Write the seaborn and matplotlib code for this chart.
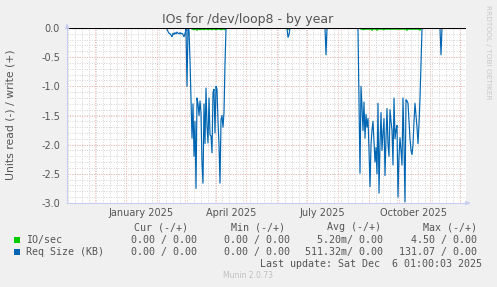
import numpy as np
import pandas as pd
import matplotlib
matplotlib.use("Agg")
import matplotlib.pyplot as plt
from matplotlib.patches import Rectangle
import seaborn as sns

# ---------------- data ----------------
x_start = "2024-11-03"
x_end = "2025-12-07"
last_day = "2025-12-06"

series_names = ["IO/sec", "Req Size (KB)"]
series_colors = ["#00CC00", "#0066B3"]

# Req Size (KB), read side (negative), daily values
req_a_start = "2025-02-11"
req_a = [-0.02, -0.06, -0.09, -0.10, -0.12, -0.15, -0.09, -0.11, -0.08, -0.10,
         -0.07, -0.09, -0.10, -0.08, -0.10, -0.09, -0.11, -0.15, -0.10, -0.02,
         -1.00, -0.02, -0.03]
req_b_start = "2025-03-06"
req_b = [-0.55, -1.20, -1.89, -1.30, -2.20, -1.60, -2.75, -1.20, -1.30, -1.50,
         -1.25, -1.45, -2.32, -2.66, -1.30, -1.98, -1.03, -1.68, -1.97, -1.20,
         -1.83, -1.85, -2.14, -1.10, -1.05, -1.80, -1.00, -1.05, -1.60, -2.00,
         -2.66, -1.57, -1.50, -1.70, -1.45, -0.60, -0.02]
req_c_start = "2025-08-21"
req_c = [-0.02, -1.30, -2.49, -1.00, -1.35, -1.76, -1.27, -1.89, -1.48, -1.70,
         -1.55, -2.10, -2.72, -2.00, -1.75, -1.60, -1.95, -2.30, -2.05, -2.50,
         -1.29, -2.83, -2.00, -1.45, -2.10, -1.80, -1.55, -2.53, -1.90, -1.38,
         -2.00, -2.20, -1.40, -1.60, -1.75, -2.35, -1.20, -1.90, -1.75, -1.67,
         -2.90, -2.20, -1.88, -2.10, -2.35, -1.20, -2.00, -2.98, -1.23, -1.25,
         -1.29, -1.60, -1.90, -2.10, -2.17, -2.00, -1.60, -1.29, -1.50, -1.70,
         -1.98, -1.65, -1.20, -0.63, -0.02]
req_dip_dates = ["2025-06-12", "2025-06-13", "2025-07-20", "2025-11-12"]
req_dip_vals = [-0.16, -0.12, -0.46, -0.46]

# IO/sec, read side (negative), daily values
io_a_start = "2025-03-08"
io_a = [-0.02, -0.02, -0.03, -0.02, -0.02, -0.04, -0.02, -0.02, -0.03, -0.02,
        -0.02, -0.02, -0.03, -0.02, -0.02, -0.02, -0.03, -0.02, -0.02, -0.02,
        -0.03, -0.02, -0.02, -0.02, -0.03, -0.02, -0.02, -0.02, -0.02, -0.03,
        -0.02, -0.02, -0.02, -0.03]
io_b_start = "2025-08-24"
io_b = [-0.02, -0.02, -0.02, -0.03, -0.02, -0.02, -0.02, -0.02, -0.02, -0.02,
        -0.02, -0.04, -0.02, -0.02, -0.02, -0.02, -0.04, -0.02, -0.02, -0.02,
        -0.02, -0.02, -0.02, -0.03, -0.02, -0.02, -0.02, -0.02, -0.02, -0.02,
        -0.02, -0.02, -0.02, -0.02, -0.02, -0.02, -0.02, -0.02, -0.02, -0.02,
        -0.02, -0.02, -0.02, -0.02, -0.02, -0.02, -0.04, -0.02, -0.02, -0.02,
        -0.02, -0.02, -0.02, -0.02, -0.02, -0.02, -0.02, -0.02, -0.02, -0.04]
io_dip_dates = ["2025-06-12"]
io_dip_vals = [-0.03]

x_tick_dates = ["2025-01-16", "2025-04-16", "2025-07-16", "2025-10-16"]
x_tick_labels = ["January 2025", "April 2025", "July 2025", "October 2025"]
y_ticks = [-3.0, -2.5, -2.0, -1.5, -1.0, -0.5, 0.0]
y_tick_labels = ["-3.0", "-2.5", "-2.0", "-1.5", "-1.0", "-0.5", "0.0"]

legend_headers = ["Cur (-/+)", "Min (-/+)", "Avg (-/+)", "Max (-/+)"]
legend_io = ["0.00 / 0.00", "0.00 / 0.00", "5.20m/ 0.00", "4.50 / 0.00"]
legend_req = ["0.00 / 0.00", "0.00 / 0.00", "511.32m/ 0.00", "131.07 / 0.00"]

# ---------------- build frame ----------------
days = pd.date_range(x_start, last_day, freq="D")
req = pd.Series(0.0, index=days)
io = pd.Series(0.0, index=days)


def put(s, start, vals):
    s.loc[pd.date_range(start, periods=len(vals), freq="D")] = vals


put(req, req_a_start, req_a)
put(req, req_b_start, req_b)
put(req, req_c_start, req_c)
req.loc[pd.to_datetime(req_dip_dates)] = req_dip_vals
put(io, io_a_start, io_a)
put(io, io_b_start, io_b)
io.loc[pd.to_datetime(io_dip_dates)] = io_dip_vals

df = pd.concat([
    pd.DataFrame({"date": days, "value": io.values, "series": series_names[0]}),
    pd.DataFrame({"date": days, "value": req.values, "series": series_names[1]}),
], ignore_index=True)

# ---------------- figure ----------------
W, H = 497, 287
BG = "#F0F0F0"
FONT = "#555555"
AXIS = "#C8CEF0"
GRID = "#D4D4D4"
MGRID = "#F0B4B4"

sns.set_style("white")
plt.rcParams["font.family"] = ["DejaVu Sans"]

fig = plt.figure(figsize=(W / 100, H / 100), dpi=100, facecolor=BG)


def fx(px):
    return px / W


def fy(py):
    return 1 - py / H


ax = fig.add_axes([fx(67), fy(203), (466 - 67) / W, (203 - 28) / H])
ax.set_facecolor("white")

x0, x1 = pd.Timestamp(x_start), pd.Timestamp(x_end)
ax.set_xlim(x0, x1)
ax.set_ylim(-3.0, 0.0)

# grid: weekly gray, monthly red (vertical); 0.1 gray, 0.5 red (horizontal)
weeks = pd.date_range(x0, x1, freq="W-MON")
months = pd.date_range(x0, x1, freq="MS")
dots = (0, (1, 1.5))
ax.vlines(weeks, -3.0, 0.0, colors=GRID, linewidth=0.7,
          linestyles=dots, zorder=0.3)
ax.vlines(months, -3.0, 0.0, colors=MGRID, linewidth=0.7,
          linestyles=dots, zorder=0.4)
minor_y = np.arange(-3.0, 0.001, 0.1)
ax.hlines(minor_y, x0, x1, colors=GRID, linewidth=0.7,
          linestyles=dots, zorder=0.3)
ax.hlines(y_ticks, x0, x1, colors=MGRID, linewidth=0.7,
          linestyles=dots, zorder=0.4)

sns.lineplot(data=df, x="date", y="value", hue="series",
             hue_order=series_names, palette=series_colors,
             linewidth=0.85, legend=False, estimator=None, sort=False,
             ax=ax, zorder=2)

ax.axhline(0.0, color="black", linewidth=0.8, zorder=3)

ax.set_xticks(pd.to_datetime(x_tick_dates))
ax.set_xticklabels(x_tick_labels)
ax.set_xticks(months, minor=True)
ax.set_yticks(y_ticks)
ax.set_yticklabels(y_tick_labels)
ax.tick_params(axis="both", which="major", length=0, labelsize=7,
               labelcolor=FONT)
ax.tick_params(axis="x", which="minor", length=2, width=0.7, color=MGRID,
               direction="out")
ax.tick_params(axis="x", which="major", pad=3.5)
ax.tick_params(axis="y", which="major", pad=5)
ax.set_xlabel("")
ax.set_ylabel("")
ax.grid(False)

for s in ["top", "right"]:
    ax.spines[s].set_visible(False)
for s in ["left", "bottom"]:
    ax.spines[s].set_color(AXIS)
    ax.spines[s].set_linewidth(0.8)

# arrows at the axis ends
ax.annotate("", xy=(0, 1 + 7 / 175), xytext=(0, 1), xycoords="axes fraction",
            arrowprops=dict(arrowstyle="-|>", color=AXIS, lw=0.8,
                            mutation_scale=6), annotation_clip=False)
ax.annotate("", xy=(1 + 7 / 399, 0), xytext=(1, 0), xycoords="axes fraction",
            arrowprops=dict(arrowstyle="-|>", color=AXIS, lw=0.8,
                            mutation_scale=6), annotation_clip=False)

# titles
fig.text(fx(248), fy(19), "IOs for /dev/loop8 - by year", ha="center",
         va="center", fontsize=9, color=FONT)
fig.text(fx(11), fy(115), "Units read (-) / write (+)", ha="center",
         va="center", rotation=90, fontsize=7.8, color=FONT)
fig.text(fx(488), fy(5), "RRDTOOL / TOBI OETIKER", ha="center", va="top",
         rotation=270, fontsize=5.3, color="#C8C8C8")

# legend block
mono = "DejaVu Sans Mono"
ms = 7.2
header_left = [134, 231, 327, 423]
value_right = [197, 290, 383, 477]
for h, xl in zip(legend_headers, header_left):
    fig.text(fx(xl), fy(227), h, ha="left", va="center", family=mono,
             fontsize=ms, color=FONT)
rows = [(series_names[0], legend_io, 240), (series_names[1], legend_req, 252)]
for (name, vals, yy), col in zip(rows, series_colors):
    fig.add_artist(Rectangle((fx(14), fy(yy + 3)), 6 / W, 6 / H,
                             transform=fig.transFigure, facecolor=col,
                             edgecolor="none"))
    fig.text(fx(26), fy(yy), name, ha="left", va="center", family=mono,
             fontsize=ms, color=FONT)
    for v, xr in zip(vals, value_right):
        fig.text(fx(xr), fy(yy), v, ha="right", va="center", family=mono,
                 fontsize=ms, color=FONT)
fig.text(fx(482), fy(264), "Last update: Sat Dec  6 01:00:03 2025",
         ha="right", va="center", family=mono, fontsize=ms, color=FONT)
fig.text(fx(248), fy(276), "Munin 2.0.73", ha="center", va="center",
         fontsize=5.5, color="#C0C0C0")

fig.savefig("out.png", dpi=100, facecolor=BG)
